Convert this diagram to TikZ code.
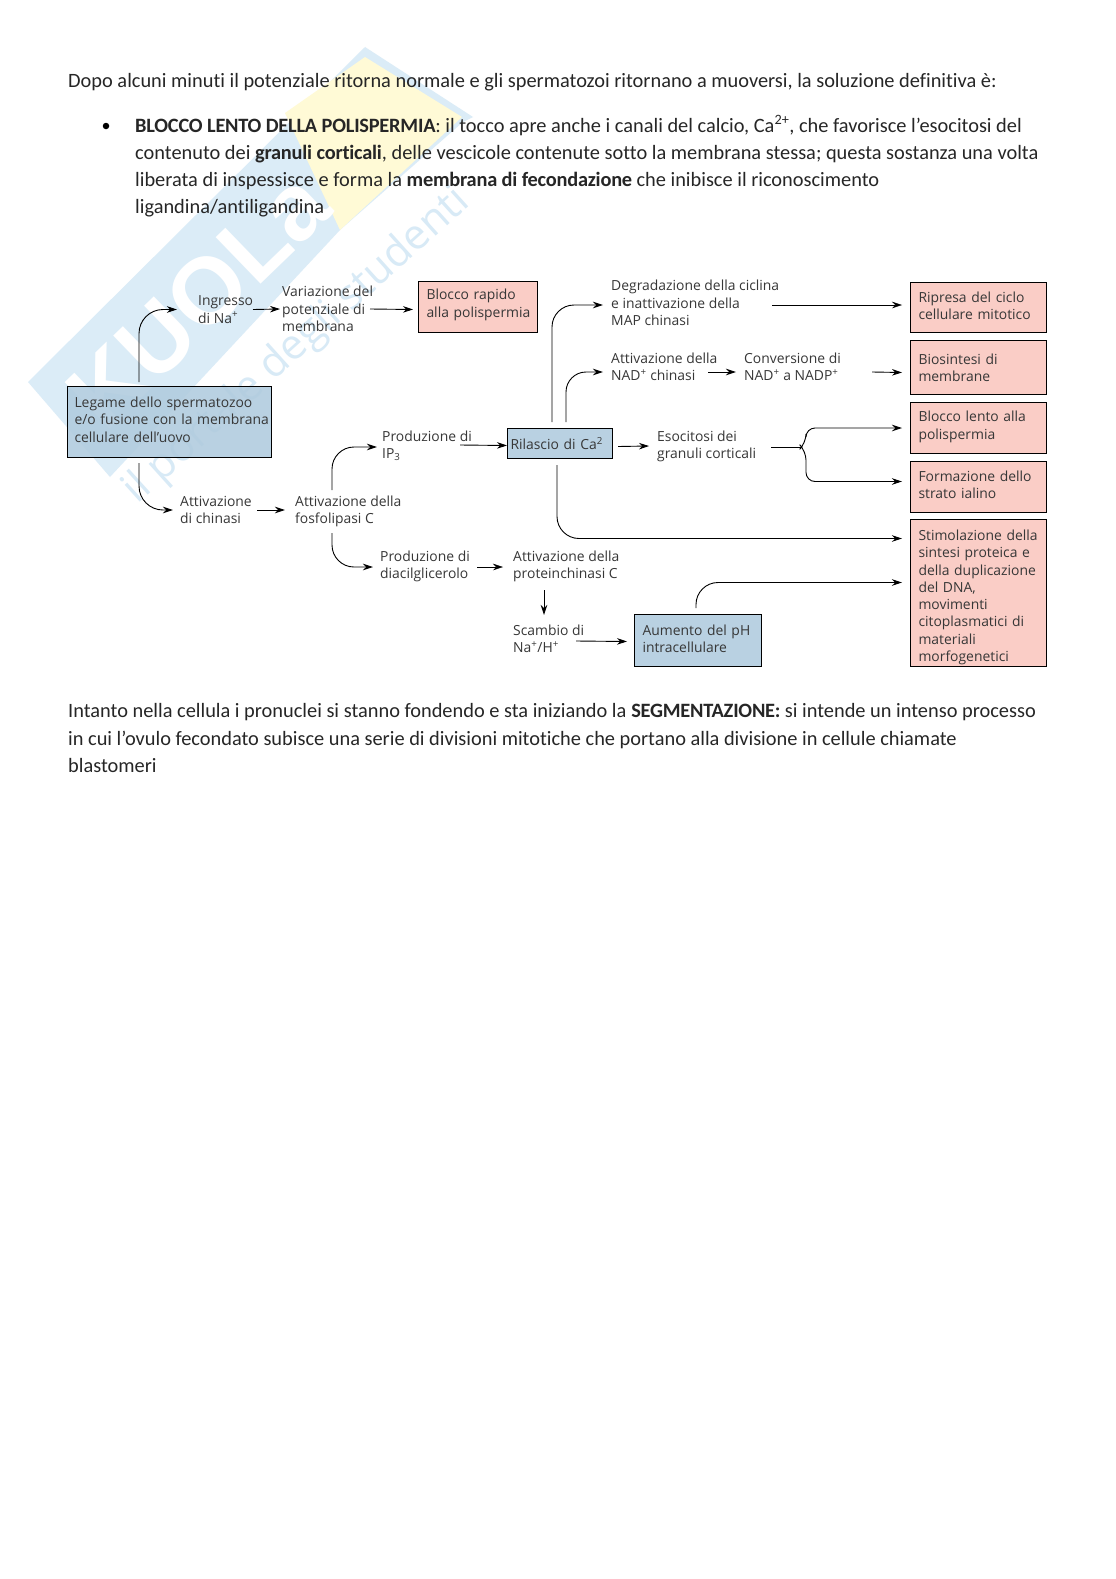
\documentclass[tikz,border=0pt]{standalone}
\usepackage{fontspec}
\usetikzlibrary{arrows.meta}
\setmainfont[Ligatures={NoCommon},BoldFeatures={LetterSpace=-1.1}]{Carlito}
\newfontfamily\dgfont{Open Sans}
\newfontfamily\wmfont{Liberation Sans}
\definecolor{wmblue}{RGB}{219,236,247}
\definecolor{wmyellow}{RGB}{255,250,214}
\definecolor{wmtext}{RGB}{216,234,246}
\definecolor{boxblue}{RGB}{176,203,222}
\definecolor{boxpink}{RGB}{250,205,198}
\definecolor{dgtext}{RGB}{55,55,55}
\tikzset{
  body/.style={anchor=base west,inner sep=0pt,font=\fontsize{20.37}{24}\selectfont,text=black!85},
  lbl/.style={anchor=west,inner sep=0pt,align=left,text=dgtext,font=\dgfont\fontsize{13.9}{17.3}\selectfont},
  boxbase/.style={anchor=north west,draw=black,line width=1pt,inner ysep=0pt,inner xsep=8pt,align=left,text=dgtext,font=\dgfont\fontsize{13.9}{17.3}\selectfont,execute at begin node={\hyphenpenalty=10000 \exhyphenpenalty=10000 }},
  pinkbox/.style={boxbase,fill=boxpink},
  bluebox/.style={boxbase,fill=boxblue,fill opacity=.88,text opacity=1},
  textup/.style={execute at end node={\par\kern#1pt}},
  textdown/.style={execute at begin node={\par\kern#1pt}},
  conn/.style={-{Stealth[length=10pt,width=6.5pt]},line width=.9pt,black},
}
\begin{document}
\begin{tikzpicture}[x=1pt,y=-1pt]
\useasboundingbox (0,0) rectangle (1116,1579);
\fill[white] (0,0) rectangle (1116,1579);
% watermark
\fill[wmblue] (28,382) -- (365,47) -- (473,117) -- (463,122) -- (340,230) -- (110,477) -- cycle;
\fill[wmyellow] (365,57) -- (462,117) -- (340,230) -- (285,113) -- cycle;
\node[rotate=44,text=white,inner sep=0pt,font=\wmfont\bfseries\fontsize{94}{94}\selectfont] (wmlogo) at (198,300) {KUOLa};
\node[rotate=42,anchor=base west,text=wmtext,inner sep=0pt,font=\dgfont\fontsize{42}{42}\selectfont] (wmsub) at (137,505) {il portale degli studenti};
% body text
\node[body] (t1) at (68,88) {Dopo alcuni minuti il potenziale ritorna normale e gli spermatozoi ritornano a muoversi, la soluzione definitiva è:};
\node[anchor=center,inner sep=0pt,circle,fill=black,minimum size=6.5pt] (bul) at (106,126) {};
\node[body] (t2) at (135,132) {\textbf{BLOCCO LENTO DELLA POLISPERMIA}: il tocco apre anche i canali del calcio, Ca\textsuperscript{2+}, che favorisce l’esocitosi del};
\node[body] (t3) at (135,159) {contenuto dei \textbf{granuli corticali}, delle vescicole contenute sotto la membrana stessa; questa sostanza una volta};
\node[body] (t4) at (135,186) {liberata di inspessisce e forma la \textbf{membrana di fecondazione} che inibisce il riconoscimento};
\node[body] (t5) at (135,213) {ligandina/antiligandina};
\node[body] (t6) at (68,717) {Intanto nella cellula i pronuclei si stanno fondendo e sta iniziando la \textbf{SEGMENTAZIONE:} si intende un intenso processo};
\node[body] (t7) at (68,745) {in cui l'ovulo fecondato subisce una serie di divisioni mitotiche che portano alla divisione in cellule chiamate};
\node[body] (t8) at (68,772) {blastomeri};
% boxes
\node[bluebox,textup=5,text width=190pt,minimum height=71pt,inner xsep=7pt] (legame) at (67,386) {\mbox{Legame dello spermatozoo}\\\mbox{e/o fusione con la membrana}\\\mbox{cellulare dell’uovo}};
\node[pinkbox,textup=4,text width=103pt,minimum height=51pt] (rapido) at (418,281) {\mbox{Blocco rapido}\\\mbox{alla polispermia}};
\node[bluebox,text width=99pt,minimum height=30pt,inner xsep=3pt] (rilascio) at (507,428) {Rilascio di Ca\textsuperscript{2}};
\node[pinkbox,textup=4,text width=120pt,minimum height=50pt] (ripresa) at (910,282) {Ripresa del ciclo\\cellulare mitotico};
\node[pinkbox,text width=120pt,minimum height=54pt] (biosintesi) at (910,340) {Biosintesi di\\membrane};
\node[pinkbox,textup=2,text width=120pt,minimum height=51pt] (lento) at (910,402) {Blocco lento alla\\polispermia};
\node[pinkbox,textup=5,text width=120pt,minimum height=51pt] (formazione) at (910,461) {Formazione dello\\strato ialino};
\node[pinkbox,textdown=2,text width=120pt,minimum height=147pt] (stim) at (910,519) {\mbox{Stimolazione della}\\sintesi proteica e\\\mbox{della duplicazione}\\del DNA,\\movimenti\\citoplasmatici di\\materiali\\morfogenetici};
\node[bluebox,textup=4,text width=111pt,minimum height=52pt] (aumento) at (634,614) {Aumento del pH\\intracellulare};
% labels
\node[lbl] (ingresso) at (198,309.5) {Ingresso\\di Na\textsuperscript{+}};
\node[lbl] (variazione) at (282,309) {Variazione del\\potenziale di\\membrana};
\node[lbl] (chinasi) at (180,510) {Attivazione\\di chinasi};
\node[lbl] (fosfo) at (295,511.5) {Attivazione della\\fosfolipasi C};
\node[lbl] (ipt) at (382,445.5) {Produzione di\\IP\textsubscript{3}};
\node[lbl] (diacil) at (380,566.5) {Produzione di\\diacilglicerolo};
\node[lbl] (protein) at (513,566.5) {Attivazione della\\proteinchinasi C};
\node[lbl] (scambio) at (513,638.5) {Scambio di\\Na\textsuperscript{+}/H\textsuperscript{+}};
\node[lbl] (degrad) at (611,303) {Degradazione della ciclina\\e inattivazione della\\MAP chinasi};
\node[lbl] (nadk) at (611,367) {Attivazione della\\NAD\textsuperscript{+} chinasi};
\node[lbl] (conv) at (744,367) {Conversione di\\NAD\textsuperscript{+} a NADP\textsuperscript{+}};
\node[lbl] (esoc) at (657,446.5) {Esocitosi dei\\granuli corticali};
\coordinate (brace) at (802,447);
% connectors
\draw[conn,rounded corners=24pt] ([shift={(72,-4)}]legame.north west) |- ([shift={(-21,0)}]ingresso.west);
\draw[conn,rounded corners=24pt] ([shift={(72,5)}]legame.south west) |- ([shift={(-7,0)}]chinasi.west);
\draw[conn] ([shift={(55,0)}]ingresso.west) -- ([shift={(-2,0)}]variazione.west);
\draw[conn] ([shift={(88,0)}]variazione.west) -- ([shift={(-5,2.5)}]rapido.west);
\draw[conn] ([shift={(77,0)}]chinasi.west) -- ([shift={(-10,-1.5)}]fosfo.west);
\draw[conn,rounded corners=22pt] ([shift={(37,-21.5)}]fosfo.west) |- ([shift={(-5,1.5)}]ipt.west);
\draw[conn,rounded corners=22pt] ([shift={(37,21.5)}]fosfo.west) |- ([shift={(-7,0.5)}]diacil.west);
\draw[conn] ([shift={(78,-0.5)}]ipt.west) -- ([shift={(0,2)}]rilascio.west);
\draw[conn,line width=.5pt] ([shift={(97,0.5)}]diacil.west) -- ([shift={(-10,0.5)}]protein.west);
\draw[conn] ([shift={(31,23.5)}]protein.west) -- ([shift={(31,-23.5)}]scambio.west);
\draw[conn] ([shift={(63,2.5)}]scambio.west) -- ([shift={(-7,1)}]aumento.west);
\draw[conn,rounded corners=22pt] ([shift={(62,-6)}]aumento.north west) |- ([shift={(-8,-10.5)}]stim.west);
\draw[conn,rounded corners=22pt] ([shift={(50,6)}]rilascio.south west) |- ([shift={(-8,-54.5)}]stim.west);
\draw[conn,rounded corners=22pt] ([shift={(45,-6)}]rilascio.north west) |- ([shift={(-8,2)}]degrad.west);
\draw[conn,rounded corners=20pt] ([shift={(59,-6)}]rilascio.north west) |- ([shift={(-8,5)}]nadk.west);
\draw[conn,line width=.5pt] ([shift={(161,2)}]degrad.west) -- ([shift={(-8,-2.5)}]ripresa.west);
\draw[conn] ([shift={(97,5)}]nadk.west) -- ([shift={(-8,5)}]conv.west);
\draw[conn] ([shift={(128,5)}]conv.west) -- ([shift={(-8,5)}]biosintesi.west);
\draw[conn] ([shift={(5,3)}]rilascio.east) -- ([shift={(-8,-0.5)}]esoc.west);
\draw[line width=1pt] ([shift={(114,0.5)}]esoc.west) -- (brace);
\draw[conn,rounded corners=9pt] (brace) -- +(4,-4) |- ([shift={(-8,0)}]lento.west);
\draw[conn,rounded corners=9pt] (brace) -- +(4,4) |- ([shift={(-8,-5.5)}]formazione.west);
\end{tikzpicture}
\end{document}
